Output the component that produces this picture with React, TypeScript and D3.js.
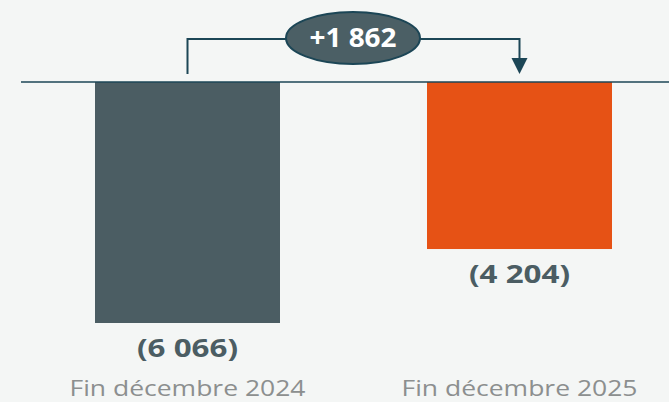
import React from "react";
import * as d3 from "d3";

const categories = ["Fin décembre 2024", "Fin décembre 2025"];
const values = [-6066, -4204];
const valueLabels = ["(6 066)", "(4 204)"];
const deltaLabel = "+1 862";
const barColors = ["#4b5d63", "#e65215"];

const W = 669;
const H = 402;

export default function App() {
  const xs = d3.scalePoint<string>().domain(categories).range([187.5, 519.5]);
  const bw = 185;
  const y = d3.scaleLinear().domain([0, -6066]).range([82, 323]);
  const lineColor = "#1c4656";
  const x0 = xs(categories[0])!;
  const x1 = xs(categories[1])!;
  const yTop = 39;
  const cx = (x0 + x1) / 2 - 0.5;
  const font = "'Open Sans', Lato, sans-serif";
  return (
    <div style={{ position: "fixed", left: 0, top: 0, width: W, height: H, background: "#f4f6f5" }}>
      <svg width={W} height={H} style={{ display: "block" }}>
        <rect x={0} y={0} width={W} height={H} fill="#f4f6f5" />
        {categories.map((c, i) => (
          <rect
            key={c}
            x={xs(c)! - bw / 2}
            y={y(0)}
            width={bw}
            height={y(values[i]) - y(0)}
            fill={barColors[i]}
          />
        ))}
        <line x1={21} x2={W} y1={82} y2={82} stroke={lineColor} strokeWidth={1.6} />
        <path
          d={`M${x0},74 L${x0},${yTop} L${x1},${yTop} L${x1},60`}
          fill="none"
          stroke={lineColor}
          strokeWidth={2}
        />
        <path d={`M${x1 - 8},58 L${x1 + 8},58 L${x1},74 Z`} fill={lineColor} />
        <ellipse cx={cx} cy={38} rx={67} ry={26} fill="#4b5f65" stroke={lineColor} strokeWidth={2} />
        <text
          x={cx}
          y={47}
          textAnchor="middle"
          fill="#ffffff"
          fontFamily={font}
          fontWeight={700}
          fontSize={26}
          textLength={87}
          lengthAdjust="spacingAndGlyphs"
        >
          {deltaLabel}
        </text>
        {categories.map((c, i) => (
          <text
            key={c + "v"}
            x={xs(c)!}
            y={y(values[i]) + 34}
            textAnchor="middle"
            fill="#4b5d63"
            fontFamily={font}
            fontWeight={700}
            fontSize={25}
            textLength={101}
            lengthAdjust="spacingAndGlyphs"
          >
            {valueLabels[i]}
          </text>
        ))}
        {categories.map((c) => (
          <text
            key={c + "c"}
            x={xs(c)!}
            y={396}
            textAnchor="middle"
            fill="#8c8f8f"
            fontFamily={font}
            fontWeight={400}
            fontSize={22}
            textLength={236}
            lengthAdjust="spacingAndGlyphs"
          >
            {c}
          </text>
        ))}
      </svg>
    </div>
  );
}
